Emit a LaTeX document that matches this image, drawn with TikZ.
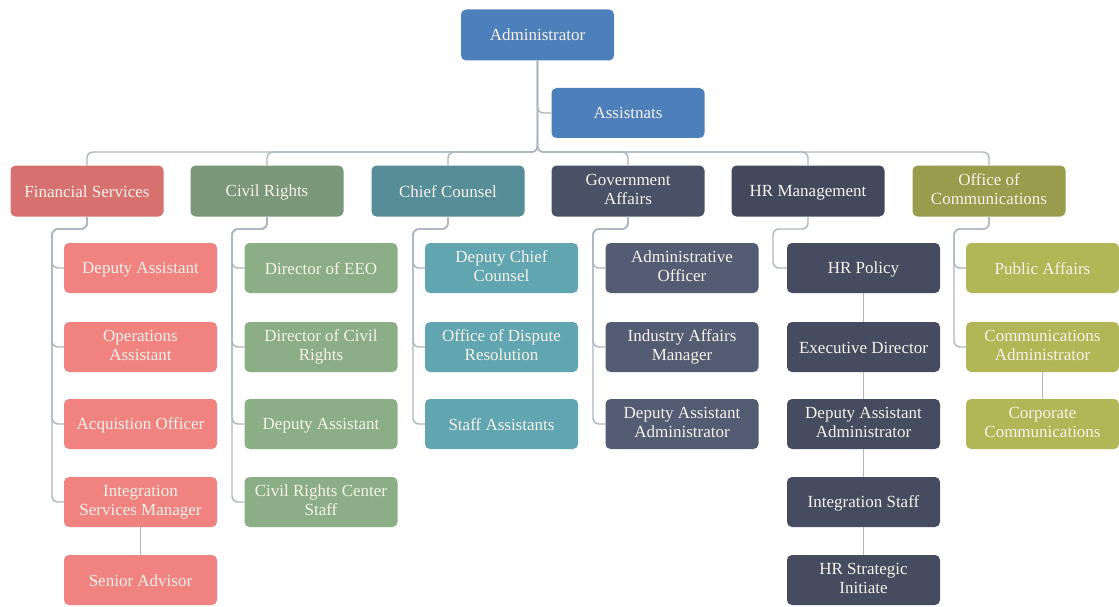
\documentclass[tikz,border=0pt]{standalone}
\usepackage{fontspec}
\setmainfont{Liberation Serif}
\definecolor{txt}{RGB}{246,242,234}
\definecolor{linec}{RGB}{172,182,190}
\definecolor{topblue}{RGB}{77,127,187}
\definecolor{finP}{RGB}{214,113,112}
\definecolor{finC}{RGB}{240,131,127}
\definecolor{civP}{RGB}{122,151,121}
\definecolor{civC}{RGB}{140,174,134}
\definecolor{chiP}{RGB}{86,141,151}
\definecolor{chiC}{RGB}{96,165,176}
\definecolor{govP}{RGB}{73,81,102}
\definecolor{govC}{RGB}{84,92,115}
\definecolor{hrP}{RGB}{66,73,93}
\definecolor{hrC}{RGB}{69,76,96}
\definecolor{comP}{RGB}{152,156,76}
\definecolor{comC}{RGB}{178,182,86}
% struts that keep every label at the same height in its box
\newcommand\topstrut{\rule{0pt}{15.5pt}}
\newcommand\botstrut{\rule[-3.5pt]{0pt}{3.5pt}}
\begin{document}
\begin{tikzpicture}[x=1pt,y=-1pt,
  box/.style={rounded corners=5pt, minimum width=153pt, minimum height=50pt,
    align=center, text=txt, inner sep=2pt,
    font=\fontsize{17}{19}\selectfont,
    execute at begin node=\topstrut, execute at end node=\botstrut},
  conn/.style={draw=linec, line width=1.4pt, rounded corners=6pt}]
\useasboundingbox (0,0) rectangle (1119,607);

% top of the chart
\node[box, fill=topblue, minimum height=51pt] (admin) at (537.5,35) {Administrator};
\node[box, fill=topblue] (assist) at (628,113) {Assistnats};

% department heads
\node[box, fill=finP, minimum height=51pt] (fin)   at (87,191)  {Financial Services};
\node[box, fill=civP, minimum height=51pt] (civ)   at (267,191) {Civil Rights};
\node[box, fill=chiP, minimum height=51pt] (chief) at (448,191) {Chief Counsel};
\node[box, fill=govP, minimum height=51pt] (gov)   at (628,191) {Government\\Affairs};
\node[box, fill=hrP,  minimum height=51pt] (hr)    at (808,191) {HR Management};
\node[box, fill=comP, minimum height=51pt] (comm)  at (989,191) {Office of\\Communications};

% Financial Services
\node[box, fill=finC] (f1) at (140.5,268) {Deputy Assistant};
\node[box, fill=finC] (f2) at (140.5,347) {Operations\\Assistant};
\node[box, fill=finC] (f3) at (140.5,424) {Acquistion Officer};
\node[box, fill=finC] (f4) at (140.5,502) {Integration\\Services Manager};
\node[box, fill=finC] (f5) at (140.5,580) {Senior Advisor};

% Civil Rights
\node[box, fill=civC] (v1) at (321,268) {Director of EEO};
\node[box, fill=civC] (v2) at (321,347) {Director of Civil\\Rights};
\node[box, fill=civC] (v3) at (321,424) {Deputy Assistant};
\node[box, fill=civC] (v4) at (321,502) {Civil Rights Center\\Staff};

% Chief Counsel
\node[box, fill=chiC] (c1) at (501.5,268) {Deputy Chief\\Counsel};
\node[box, fill=chiC] (c2) at (501.5,347) {Office of Dispute\\Resolution};
\node[box, fill=chiC] (c3) at (501.5,424) {Staff Assistants};

% Government Affairs
\node[box, fill=govC] (g1) at (682,268) {Administrative\\Officer};
\node[box, fill=govC] (g2) at (682,347) {Industry Affairs\\Manager};
\node[box, fill=govC] (g3) at (682,424) {Deputy Assistant\\Administrator};

% HR Management
\node[box, fill=hrC] (h1) at (863.5,268) {HR Policy};
\node[box, fill=hrC] (h2) at (863.5,347) {Executive Director};
\node[box, fill=hrC] (h3) at (863.5,424) {Deputy Assistant\\Administrator};
\node[box, fill=hrC] (h4) at (863.5,502) {Integration Staff};
\node[box, fill=hrC] (h5) at (863.5,580) {HR Strategic\\Initiate};

% Office of Communications
\node[box, fill=comC] (m1) at (1042.5,268) {Public Affairs};
\node[box, fill=comC] (m2) at (1042.5,347) {Communications\\Administrator};
\node[box, fill=comC] (m3) at (1042.5,424) {Corporate\\Communications};

% bus from the administrator to the departments
\coordinate (bus) at (537.5,152);
\foreach \p in {fin,civ,chief,gov,hr,comm}
  \draw[conn] (admin.south) -- (admin.south |- bus) -| (\p.north);
\draw[conn] (admin.south) |- (assist.west);

% bracket points of each department
\coordinate (k1) at (52,229);
\coordinate (k2) at (232,229);
\coordinate (k3) at (413,229);
\coordinate (k4) at (593,229);
\coordinate (k5) at (773,229);
\coordinate (k6) at (954,229);

\foreach \c in {f1,f2,f3,f4}
  \draw[conn] (fin.south) |- (k1) |- (\c.west);
\foreach \c in {v1,v2,v3,v4}
  \draw[conn] (civ.south) |- (k2) |- (\c.west);
\foreach \c in {c1,c2,c3}
  \draw[conn] (chief.south) |- (k3) |- (\c.west);
\foreach \c in {g1,g2,g3}
  \draw[conn] (gov.south) |- (k4) |- (\c.west);
\draw[conn] (hr.south) |- (k5) |- (h1.west);
\foreach \c in {m1,m2}
  \draw[conn] (comm.south) |- (k6) |- (\c.west);

% direct reports in a chain
\draw[conn] (f4.south) -- (f5.north);
\draw[conn] (h1.south) -- (h2.north);
\draw[conn] (h2.south) -- (h3.north);
\draw[conn] (h3.south) -- (h4.north);
\draw[conn] (h4.south) -- (h5.north);
\draw[conn] (m2.south) -- (m3.north);
\end{tikzpicture}
\end{document}
